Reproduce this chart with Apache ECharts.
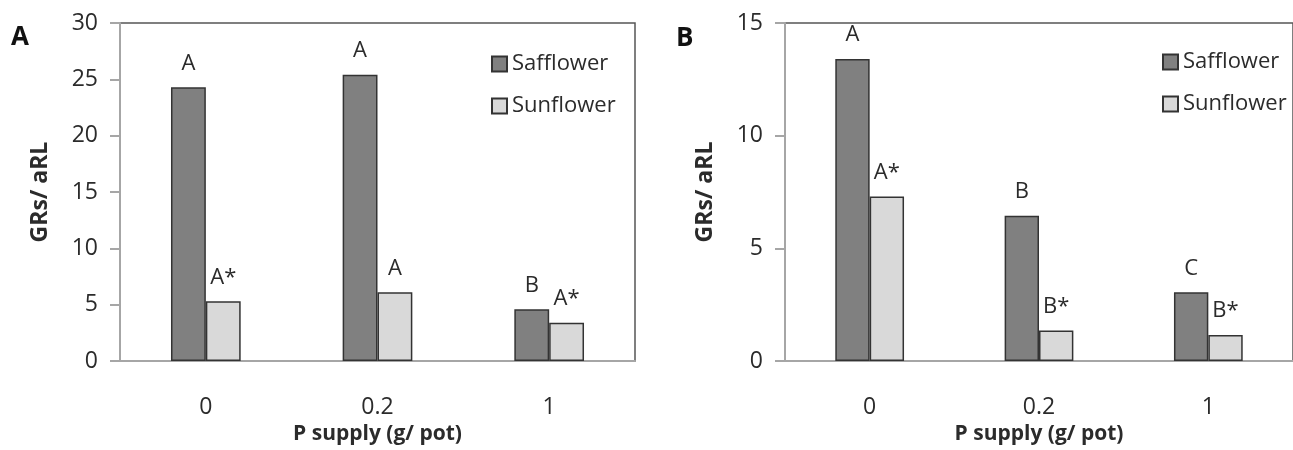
<!DOCTYPE html>
<html>
<head>
<meta charset="utf-8">
<script src="https://cdn.jsdelivr.net/npm/echarts@6/dist/echarts.min.js"></script>
<style>html,body{margin:0;padding:0;background:#fff}#c{width:1293px;height:450px}</style>
</head>
<body>
<div id="c"></div>
<script>
var categories = ['0', '0.2', '1'];
var seriesNames = ['Safflower', 'Sunflower'];
var safflowerA = [24.3, 25.4, 4.6];
var sunflowerA = [5.3, 6.1, 3.4];
var safflowerB = [13.4, 6.45, 3.05];
var sunflowerB = [7.3, 1.35, 1.15];
var safflowerALabels = ['A', 'A', 'B'];
var sunflowerALabels = ['A*', 'A', 'A*'];
var safflowerBLabels = ['A', 'B', 'C'];
var sunflowerBLabels = ['A*', 'B*', 'B*'];
var yTicksA = {min: 0, max: 30, interval: 5};
var yTicksB = {min: 0, max: 15, interval: 5};

var FONT = 'Open Sans';
var TXT = '#2b2b2b';
var AXC = '#a6a6a6';

function makeData(vals, labels) {
  return vals.map(function (v, i) {
    return {value: v, label: {formatter: labels[i]}};
  });
}
function barSeries(name, idx, vals, labels, color) {
  return {
    name: name, type: 'bar', xAxisIndex: idx, yAxisIndex: idx,
    barWidth: '20.3%', barGap: '0%',
    itemStyle: {color: color, borderColor: '#333', borderWidth: 1.5},
    label: {show: true, position: 'top', distance: 13, fontFamily: FONT, fontSize: 22, color: TXT},
    data: makeData(vals, labels)
  };
}
function xAx(idx) {
  return {
    type: 'category', gridIndex: idx, data: categories,
    axisTick: {show: false},
    axisLine: {lineStyle: {color: AXC, width: 2}},
    axisLabel: {fontFamily: FONT, fontSize: 23, color: TXT, margin: 35},
    name: 'P supply (g/ pot)', nameLocation: 'middle', nameGap: 60,
    nameTextStyle: {fontFamily: FONT, fontSize: 21, fontWeight: 'bold', color: TXT}
  };
}
function yAx(idx, t) {
  return {
    type: 'value', gridIndex: idx, min: t.min, max: t.max, interval: t.interval,
    splitLine: {show: false},
    axisLine: {show: true, lineStyle: {color: AXC, width: 2}},
    axisTick: {show: true, length: 10, lineStyle: {color: AXC, width: 2}},
    axisLabel: {fontFamily: FONT, fontSize: 23, color: TXT, margin: 22},
    name: 'GRs/ aRL', nameLocation: 'middle', nameGap: 68, nameRotate: 90,
    nameTextStyle: {fontFamily: FONT, fontSize: 23, fontWeight: 'bold', color: TXT}
  };
}

var chart = echarts.init(document.getElementById('c'));
chart.setOption({
  animation: false,
  backgroundColor: '#fff',
  grid: [
    {left: 120, top: 23, width: 515, height: 339, show: true, borderColor: '#555', borderWidth: 1.5, containLabel: false},
    {left: 785, top: 23, width: 515, height: 338, show: true, borderColor: '#555', borderWidth: 1.5, containLabel: false}
  ],
  xAxis: [xAx(0), xAx(1)],
  yAxis: [yAx(0, yTicksA), yAx(1, yTicksB)],
  legend: [
    {orient: 'vertical', left: 486, top: 48, itemWidth: 15, itemHeight: 15, itemGap: 20, icon: 'rect',
     data: seriesNames, selectedMode: false, textStyle: {fontFamily: FONT, fontSize: 22, color: TXT}},
    {orient: 'vertical', left: 1157, top: 46, itemWidth: 15, itemHeight: 15, itemGap: 20, icon: 'rect',
     data: seriesNames, selectedMode: false, textStyle: {fontFamily: FONT, fontSize: 22, color: TXT}}
  ],
  series: [
    barSeries('Safflower', 0, safflowerA, safflowerALabels, '#808080'),
    barSeries('Sunflower', 0, sunflowerA, sunflowerALabels, '#d9d9d9'),
    barSeries('Safflower', 1, safflowerB, safflowerBLabels, '#808080'),
    barSeries('Sunflower', 1, sunflowerB, sunflowerBLabels, '#d9d9d9')
  ],
  graphic: [
    {type: 'text', left: 11, top: 25, style: {text: 'A', fontFamily: FONT, fontSize: 26, fontWeight: 'bold', fill: '#111'}},
    {type: 'text', left: 676, top: 26, style: {text: 'B', fontFamily: FONT, fontSize: 26, fontWeight: 'bold', fill: '#111'}}
  ]
});
</script>
</body>
</html>
